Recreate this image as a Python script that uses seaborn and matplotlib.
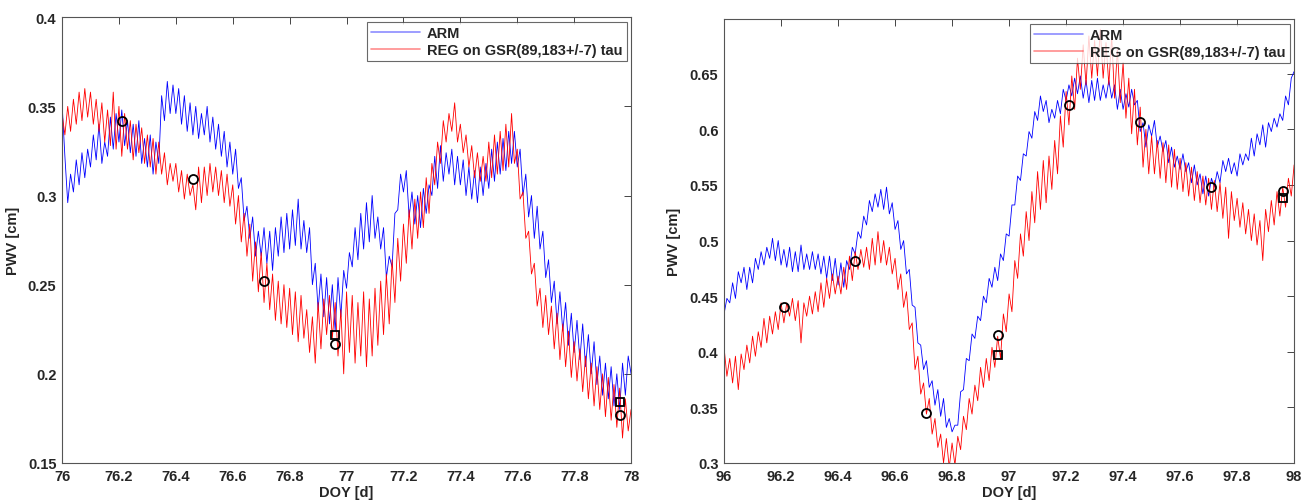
import numpy as np
import pandas as pd
import matplotlib
matplotlib.use("Agg")
import matplotlib.pyplot as plt
import seaborn as sns
from matplotlib.ticker import FuncFormatter

doy_left = np.round(np.arange(76.0, 78.0001, 0.01), 2)
doy_right = np.round(np.arange(96.0, 98.0001, 0.01), 2)

arm_left = [
    0.352, 0.322, 0.296, 0.312, 0.302, 0.320, 0.306, 0.324, 0.310, 0.326,
    0.316, 0.334, 0.320, 0.340, 0.318, 0.330, 0.322, 0.344, 0.326, 0.346,
    0.330, 0.348, 0.328, 0.342, 0.324, 0.340, 0.322, 0.342, 0.318, 0.332,
    0.316, 0.334, 0.312, 0.330, 0.318, 0.356, 0.342, 0.364, 0.346, 0.362,
    0.346, 0.360, 0.340, 0.356, 0.336, 0.352, 0.334, 0.350, 0.332, 0.346,
    0.334, 0.350, 0.330, 0.344, 0.326, 0.340, 0.322, 0.336, 0.316, 0.330,
    0.312, 0.326, 0.304, 0.310, 0.286, 0.294, 0.276, 0.288, 0.266, 0.280,
    0.266, 0.282, 0.262, 0.280, 0.258, 0.282, 0.266, 0.288, 0.268, 0.290,
    0.270, 0.292, 0.272, 0.298, 0.270, 0.286, 0.268, 0.282, 0.250, 0.262,
    0.236, 0.256, 0.232, 0.254, 0.228, 0.250, 0.224, 0.254, 0.232, 0.258,
    0.248, 0.268, 0.260, 0.282, 0.264, 0.290, 0.270, 0.296, 0.274, 0.300,
    0.276, 0.288, 0.270, 0.282, 0.254, 0.266, 0.260, 0.290, 0.292, 0.312,
    0.302, 0.314, 0.288, 0.302, 0.284, 0.300, 0.282, 0.304, 0.290, 0.306,
    0.300, 0.322, 0.304, 0.328, 0.308, 0.324, 0.312, 0.326, 0.306, 0.322,
    0.306, 0.320, 0.300, 0.316, 0.298, 0.314, 0.296, 0.316, 0.300, 0.318,
    0.304, 0.326, 0.308, 0.330, 0.312, 0.332, 0.314, 0.336, 0.318, 0.336,
    0.316, 0.326, 0.300, 0.312, 0.288, 0.300, 0.276, 0.294, 0.270, 0.280,
    0.254, 0.264, 0.240, 0.252, 0.228, 0.246, 0.224, 0.240, 0.216, 0.234,
    0.212, 0.230, 0.208, 0.228, 0.204, 0.222, 0.200, 0.218, 0.194, 0.210,
    0.188, 0.206, 0.186, 0.204, 0.182, 0.200, 0.180, 0.206, 0.188, 0.210,
    0.200,
]

reg_left = [
    0.346, 0.334, 0.350, 0.336, 0.354, 0.340, 0.358, 0.342, 0.360, 0.344,
    0.358, 0.340, 0.354, 0.336, 0.352, 0.330, 0.348, 0.328, 0.358, 0.326,
    0.350, 0.322, 0.346, 0.326, 0.342, 0.320, 0.340, 0.324, 0.338, 0.318,
    0.334, 0.316, 0.332, 0.312, 0.330, 0.312, 0.324, 0.306, 0.318, 0.308,
    0.318, 0.302, 0.314, 0.298, 0.312, 0.300, 0.306, 0.292, 0.316, 0.296,
    0.316, 0.300, 0.318, 0.302, 0.316, 0.300, 0.314, 0.296, 0.312, 0.294,
    0.306, 0.284, 0.300, 0.274, 0.290, 0.266, 0.284, 0.252, 0.274, 0.246,
    0.268, 0.240, 0.262, 0.236, 0.256, 0.230, 0.252, 0.228, 0.250, 0.226,
    0.248, 0.222, 0.246, 0.218, 0.244, 0.220, 0.236, 0.212, 0.232, 0.206,
    0.240, 0.214, 0.242, 0.222, 0.244, 0.220, 0.240, 0.210, 0.236, 0.200,
    0.246, 0.212, 0.244, 0.206, 0.240, 0.210, 0.246, 0.204, 0.242, 0.210,
    0.248, 0.216, 0.252, 0.222, 0.256, 0.228, 0.264, 0.240, 0.276, 0.252,
    0.284, 0.262, 0.292, 0.270, 0.298, 0.276, 0.302, 0.282, 0.310, 0.290,
    0.318, 0.306, 0.330, 0.318, 0.342, 0.330, 0.346, 0.336, 0.352, 0.330,
    0.340, 0.324, 0.334, 0.316, 0.328, 0.310, 0.324, 0.308, 0.322, 0.308,
    0.330, 0.310, 0.334, 0.312, 0.336, 0.314, 0.340, 0.316, 0.346, 0.318,
    0.326, 0.298, 0.302, 0.276, 0.280, 0.256, 0.262, 0.238, 0.248, 0.226,
    0.244, 0.222, 0.238, 0.214, 0.234, 0.208, 0.228, 0.204, 0.224, 0.198,
    0.218, 0.196, 0.214, 0.190, 0.210, 0.186, 0.206, 0.182, 0.204, 0.180,
    0.200, 0.176, 0.198, 0.174, 0.194, 0.170, 0.192, 0.164, 0.186, 0.168,
    0.180,
]

arm_right = [
    0.434, 0.448, 0.444, 0.462, 0.448, 0.472, 0.462, 0.476, 0.456, 0.476,
    0.462, 0.484, 0.474, 0.490, 0.478, 0.494, 0.484, 0.502, 0.482, 0.500,
    0.478, 0.492, 0.476, 0.494, 0.472, 0.490, 0.472, 0.496, 0.474, 0.488,
    0.474, 0.490, 0.474, 0.488, 0.470, 0.486, 0.466, 0.486, 0.464, 0.484,
    0.460, 0.480, 0.458, 0.482, 0.474, 0.494, 0.488, 0.508, 0.502, 0.522,
    0.514, 0.536, 0.526, 0.542, 0.530, 0.546, 0.528, 0.548, 0.524, 0.534,
    0.510, 0.518, 0.492, 0.500, 0.470, 0.474, 0.442, 0.440, 0.408, 0.406,
    0.384, 0.392, 0.368, 0.374, 0.352, 0.366, 0.342, 0.358, 0.332, 0.340,
    0.328, 0.334, 0.334, 0.364, 0.366, 0.394, 0.392, 0.416, 0.412, 0.432,
    0.428, 0.450, 0.444, 0.466, 0.458, 0.476, 0.464, 0.488, 0.482, 0.506,
    0.504, 0.532, 0.532, 0.558, 0.554, 0.578, 0.576, 0.598, 0.592, 0.616,
    0.608, 0.630, 0.616, 0.626, 0.606, 0.618, 0.610, 0.626, 0.614, 0.636,
    0.626, 0.640, 0.630, 0.646, 0.632, 0.648, 0.628, 0.644, 0.624, 0.644,
    0.626, 0.646, 0.626, 0.640, 0.628, 0.644, 0.628, 0.640, 0.618, 0.636,
    0.618, 0.632, 0.620, 0.636, 0.622, 0.626, 0.598, 0.606, 0.584, 0.604,
    0.594, 0.608, 0.584, 0.594, 0.580, 0.590, 0.570, 0.584, 0.566, 0.576,
    0.564, 0.578, 0.562, 0.570, 0.552, 0.568, 0.550, 0.560, 0.542, 0.558,
    0.540, 0.556, 0.548, 0.562, 0.552, 0.572, 0.562, 0.574, 0.560, 0.570,
    0.558, 0.578, 0.568, 0.578, 0.572, 0.592, 0.576, 0.596, 0.586, 0.604,
    0.584, 0.606, 0.598, 0.610, 0.602, 0.614, 0.608, 0.630, 0.622, 0.646,
    0.652,
]

reg_right = [
    0.404, 0.378, 0.394, 0.372, 0.396, 0.366, 0.398, 0.384, 0.406, 0.390,
    0.414, 0.396, 0.418, 0.404, 0.430, 0.408, 0.432, 0.416, 0.436, 0.420,
    0.444, 0.426, 0.444, 0.432, 0.448, 0.428, 0.446, 0.408, 0.444, 0.432,
    0.450, 0.434, 0.454, 0.436, 0.462, 0.440, 0.466, 0.448, 0.470, 0.452,
    0.468, 0.452, 0.476, 0.456, 0.486, 0.464, 0.490, 0.474, 0.492, 0.476,
    0.494, 0.474, 0.502, 0.478, 0.508, 0.480, 0.500, 0.478, 0.494, 0.470,
    0.484, 0.456, 0.470, 0.440, 0.454, 0.420, 0.426, 0.384, 0.396, 0.362,
    0.372, 0.344, 0.358, 0.326, 0.340, 0.314, 0.326, 0.300, 0.322, 0.296,
    0.318, 0.298, 0.324, 0.312, 0.342, 0.330, 0.358, 0.344, 0.370, 0.356,
    0.386, 0.368, 0.394, 0.374, 0.404, 0.386, 0.414, 0.394, 0.434, 0.418,
    0.452, 0.436, 0.482, 0.466, 0.506, 0.486, 0.526, 0.500, 0.544, 0.516,
    0.562, 0.528, 0.572, 0.534, 0.576, 0.546, 0.590, 0.560, 0.612, 0.584,
    0.634, 0.604, 0.648, 0.618, 0.664, 0.636, 0.676, 0.640, 0.684, 0.646,
    0.680, 0.648, 0.690, 0.646, 0.678, 0.640, 0.684, 0.628, 0.672, 0.624,
    0.660, 0.610, 0.646, 0.596, 0.636, 0.586, 0.620, 0.566, 0.600, 0.560,
    0.594, 0.560, 0.590, 0.556, 0.588, 0.552, 0.586, 0.548, 0.582, 0.546,
    0.574, 0.544, 0.570, 0.540, 0.566, 0.536, 0.562, 0.534, 0.558, 0.532,
    0.556, 0.528, 0.554, 0.526, 0.552, 0.520, 0.548, 0.502, 0.544, 0.518,
    0.538, 0.512, 0.534, 0.506, 0.528, 0.500, 0.524, 0.496, 0.518, 0.482,
    0.528, 0.508, 0.536, 0.514, 0.544, 0.522, 0.548, 0.530, 0.556, 0.540,
    0.568,
]

# reference points (circles and squares)
circ_left_x = [76.21, 76.46, 76.71, 76.96, 77.96]
circ_left_y = [0.342, 0.309, 0.252, 0.217, 0.177]
sq_left_x = [76.96, 77.96]
sq_left_y = [0.222, 0.184]

circ_right_x = [96.21, 96.46, 96.71, 96.96, 97.21, 97.46, 97.71, 97.96]
circ_right_y = [0.440, 0.482, 0.345, 0.415, 0.622, 0.607, 0.548, 0.545]
sq_right_x = [96.96, 97.96]
sq_right_y = [0.397, 0.538]

sns.set_style("white")
plt.rcParams['font.family'] = ['Liberation Sans', 'DejaVu Sans']
plt.rcParams['font.weight'] = 'bold'
plt.rcParams['font.size'] = 10.5

fig = plt.figure(figsize=(13.06, 5.02), dpi=100)
ax1 = fig.add_axes([0.0475, 0.0757, 0.4357, 0.888])
ax2 = fig.add_axes([0.5544, 0.0757, 0.4365, 0.884])

panels = [
    (ax1, doy_left, arm_left, reg_left, circ_left_x, circ_left_y, sq_left_x, sq_left_y,
     (76, 78), (0.15, 0.4), np.arange(0.15, 0.401, 0.05)),
    (ax2, doy_right, arm_right, reg_right, circ_right_x, circ_right_y, sq_right_x, sq_right_y,
     (96, 98), (0.3, 0.699), np.arange(0.3, 0.651, 0.05)),
]

fmt = FuncFormatter(lambda v, p: "%g" % round(v, 2))

for ax, doy, arm, reg, cx, cy, sx, sy, xl, yl, yt in panels:
    df = pd.DataFrame({"doy": doy, "arm": arm, "reg": reg})
    sns.lineplot(data=df, x="doy", y="arm", ax=ax, color=(0, 0, 1), lw=0.6,
                 estimator=None, label="ARM")
    sns.lineplot(data=df, x="doy", y="reg", ax=ax, color=(1, 0, 0), lw=0.6,
                 estimator=None, label="REG on GSR(89,183+/-7) tau")
    ax.plot(cx, cy, 'o', ms=6.5, mfc='none', mec='black', mew=1.3)
    ax.plot(sx, sy, 's', ms=5.5, mfc='none', mec='black', mew=1.3)
    ax.set_xlim(*xl)
    ax.set_ylim(*yl)
    ax.set_xticks(np.arange(xl[0], xl[1] + 0.001, 0.2))
    ax.set_yticks(yt)
    ax.xaxis.set_major_formatter(fmt)
    ax.yaxis.set_major_formatter(fmt)
    ax.tick_params(direction='in', top=True, right=True, length=5, width=0.6,
                   labelsize=10.5, pad=4)
    for s in ax.spines.values():
        s.set_color('#555555')
        s.set_linewidth(0.8)
    ax.set_xlabel("DOY [d]", fontweight='bold', fontsize=10.5, labelpad=2)
    ax.set_ylabel("PWV [cm]", fontweight='bold', fontsize=10.5, labelpad=6)
    leg = ax.legend(loc='upper right', fontsize=10.5, frameon=True, fancybox=False,
                    borderaxespad=0.3, handlelength=3.3, handletextpad=0.5,
                    borderpad=0.3, labelspacing=0.2)
    leg.get_frame().set_edgecolor('#444444')
    leg.get_frame().set_linewidth(0.8)
    for h in leg.get_lines():
        h.set_alpha(0.45)
        h.set_linewidth(1.2)

fig.savefig("out.png", dpi=100)
